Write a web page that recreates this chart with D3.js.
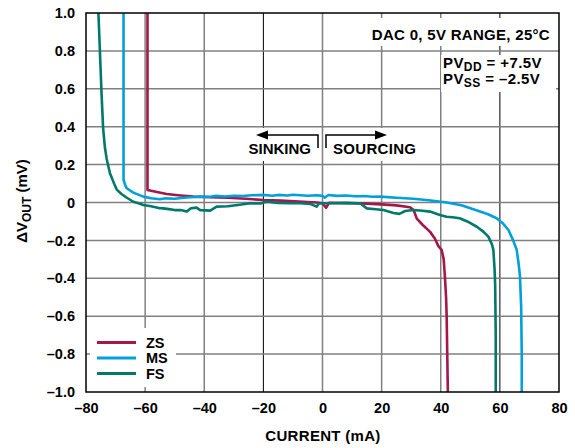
<!doctype html>
<html>
<head>
<meta charset="utf-8">
<style>
    body{
        margin: 0;
        background-color: white;
    }
    text{
        font-family: "Liberation Sans", Arial, sans-serif;
        font-weight: bold;
        fill: black;
    }
    .grid line{
        stroke: #808080;
        stroke-width: 1.5;
    }
    .grid line.dark{
        stroke: #000;
        stroke-width: 1;
    }
</style>
<script src="https://cdnjs.cloudflare.com/ajax/libs/d3/7.8.5/d3.min.js"></script>
</head>
<body>
<script>
    const width = 575;
    const height = 448;

    // axis ticks
    var xTicks = [-80, -60, -40, -20, 0, 20, 40, 60, 80];
    var yTicks = [-1.0, -0.8, -0.6, -0.4, -0.2, 0, 0.2, 0.4, 0.6, 0.8, 1.0];
    var darkGrid = [-20, 60];

    // series: current (mA) and delta Vout (mV)
    var zsCurrent = [-59.2, -59.2, -56, -52.7, -48, -43.7, -38, -32, -26, -20, -14, -8, -2, 0, 1.2, 2.2, 6, 10, 15, 20, 25, 29.6, 30.8, 31.9, 34, 36.4, 38, 39.2, 40.3, 41, 41.4, 41.8, 42.0, 42.2, 42.4];
    var zsDelta = [1.0, 0.066, 0.055, 0.045, 0.037, 0.031, 0.028, 0.025, 0.02, 0.013, 0.01, 0.005, 0.0, -0.004, -0.028, -0.002, -0.003, -0.004, -0.006, -0.01, -0.015, -0.025, -0.04, -0.085, -0.12, -0.155, -0.19, -0.23, -0.25, -0.3, -0.39, -0.5, -0.6, -0.8, -1.0];

    var msCurrent = [-67.3, -67.3, -66.7, -66.2, -64, -60.6, -58, -55, -53, -50, -46, -41.4, -38, -36, -33, -30, -27, -24, -20, -17, -15, -12, -10, -5, -2, 0, 0.8, 2, 5, 8, 11, 14, 17, 19.5, 25, 30.7, 36, 42, 47, 53.3, 56, 58.9, 61, 62.9, 64.5, 65.7, 66.4, 66.8, 67.2, 67.4, 67.4];
    var msDelta = [1.0, 0.12, 0.09, 0.075, 0.052, 0.031, 0.022, 0.017, 0.022, 0.02, 0.026, 0.031, 0.03, 0.035, 0.032, 0.036, 0.034, 0.038, 0.04, 0.036, 0.04, 0.037, 0.041, 0.036, 0.038, 0.035, 0.026, 0.04, 0.035, 0.037, 0.033, 0.034, 0.03, 0.031, 0.025, 0.02, 0.012, 0.0, -0.015, -0.048, -0.062, -0.083, -0.11, -0.145, -0.2, -0.25, -0.33, -0.39, -0.55, -0.8, -1.0];

    var fsCurrent = [-75.8, -75.5, -75.1, -74.7, -74.2, -73.6, -73.0, -71.9, -70.5, -69.6, -68, -66.2, -64, -62, -60.6, -58, -55, -53.9, -52, -50, -48, -45.9, -44.5, -42.6, -41.4, -38, -35.8, -32, -28, -24.5, -21, -18.9, -15, -11, -7.6, -4, -2, -1.2, 0, 3.7, 8, 12.7, 15, 18, 20.6, 24, 26, 28, 30.6, 33, 36.4, 39.7, 42, 44, 46.4, 49, 52.2, 54.5, 56.1, 57.3, 57.8, 58.2, 58.4, 58.6, 58.6];
    var fsDelta = [1.0, 0.88, 0.72, 0.56, 0.39, 0.29, 0.23, 0.154, 0.1, 0.068, 0.045, 0.025, 0.004, -0.005, -0.013, -0.02, -0.03, -0.031, -0.035, -0.04, -0.04, -0.048, -0.03, -0.027, -0.04, -0.043, -0.022, -0.02, -0.012, -0.004, -0.005, 0.004, -0.002, -0.004, -0.004, -0.008, -0.022, -0.005, -0.004, -0.004, -0.002, -0.004, -0.031, -0.036, -0.04, -0.055, -0.06, -0.045, -0.04, -0.042, -0.048, -0.066, -0.075, -0.078, -0.083, -0.1, -0.128, -0.155, -0.18, -0.22, -0.25, -0.35, -0.43, -0.7, -1.0];

    var seriesNames = ["ZS", "MS", "FS"];
    var seriesColors = ["#a3174b", "#00a0dc", "#00796c"];

    var series = [
        {name: seriesNames[0], color: seriesColors[0], x: zsCurrent, y: zsDelta},
        {name: seriesNames[1], color: seriesColors[1], x: msCurrent, y: msDelta},
        {name: seriesNames[2], color: seriesColors[2], x: fsCurrent, y: fsDelta}
    ];

    const plotLeft = 86, plotRight = 559, plotTop = 13, plotBottom = 392;

    var svg = d3.select('body')
        .append('svg')
        .attr('width', width)
        .attr('height', height);

    var xScale = d3.scaleLinear().domain([-80, 80]).range([plotLeft, plotRight]);
    var yScale = d3.scaleLinear().domain([-1, 1]).range([plotBottom, plotTop]);

    var fmtX = function(d){ return d < 0 ? '\u2013' + Math.abs(d) : '' + d; };
    var fmtY = function(d){
        if(Math.abs(d) < 1e-9) return '0';
        return d < 0 ? '\u2013' + Math.abs(d).toFixed(1) : d.toFixed(1);
    };

    //grid
    var grid = svg.append('g').attr('class', 'grid');
    grid.selectAll('line.v')
        .data(xTicks.slice(1, -1))
        .enter()
        .append('line')
        .attr('class', d => darkGrid.indexOf(d) >= 0 ? 'v dark' : 'v')
        .attr('x1', d => xScale(d)).attr('x2', d => xScale(d))
        .attr('y1', plotTop).attr('y2', plotBottom);
    grid.selectAll('line.h')
        .data(yTicks.slice(1, -1))
        .enter()
        .append('line')
        .attr('class', 'h')
        .attr('x1', plotLeft).attr('x2', plotRight)
        .attr('y1', d => yScale(d)).attr('y2', d => yScale(d));

    // white boxes behind the text blocks
    var boxes = [[90, 328, 86, 59], [244, 128, 75, 33], [327, 128, 94, 33], [363, 18, 194, 28], [441, 55, 115, 37]];
    svg.append('g').selectAll('rect')
        .data(boxes)
        .enter()
        .append('rect')
        .attr('x', d => d[0]).attr('y', d => d[1])
        .attr('width', d => d[2]).attr('height', d => d[3])
        .attr('fill', 'white');

    //curves
    var line = d3.line()
        .x(d => xScale(d[0]))
        .y(d => yScale(d[1]));

    svg.append('g')
        .selectAll('path')
        .data(series)
        .enter()
        .append('path')
        .attr('d', s => line(s.x.map((v, i) => [v, s.y[i]])))
        .attr('fill', 'none')
        .attr('stroke', s => s.color)
        .attr('stroke-width', 2.6)
        .attr('stroke-linejoin', 'round');

    //frame
    svg.append('rect')
        .attr('x', plotLeft).attr('y', plotTop)
        .attr('width', plotRight - plotLeft).attr('height', plotBottom - plotTop)
        .attr('fill', 'none')
        .attr('stroke', 'black')
        .attr('stroke-width', 1.5);

    //axes
    var xAxis = d3.axisBottom(xScale).tickValues(xTicks).tickFormat(fmtX).tickSize(0).tickPadding(11);
    var yAxis = d3.axisLeft(yScale).tickValues(yTicks).tickFormat(fmtY).tickSize(0).tickPadding(11);

    var gx = svg.append('g').attr('transform', 'translate(0,' + plotBottom + ')').call(xAxis);
    var gy = svg.append('g').attr('transform', 'translate(' + plotLeft + ',0)').call(yAxis);
    [gx, gy].forEach(function(g){
        g.select('.domain').remove();
        g.selectAll('text')
            .style('font-size', '14.5px')
            .style('font-family', '"Liberation Sans", Arial, sans-serif')
            .style('font-weight', 'bold')
            .attr('fill', 'black');
    });

    svg.append('text')
        .attr('x', 323).attr('y', 441)
        .attr('text-anchor', 'middle')
        .style('font-size', '15px')
        .style('letter-spacing', '0.3px')
        .text('CURRENT (mA)');

    var yt = svg.append('text')
        .attr('transform', 'translate(27,201) rotate(-90)')
        .attr('text-anchor', 'middle')
        .style('font-size', '15px');
    yt.append('tspan').text('\u0394V');
    yt.append('tspan').attr('baseline-shift', '-4').style('font-size', '12px').text('OUT');
    yt.append('tspan').text(' (mV)');

    //legend
    var legend = svg.append('g');
    legend.selectAll('line')
        .data(series)
        .enter()
        .append('line')
        .attr('x1', 97).attr('x2', 136)
        .attr('y1', (d, i) => 342.5 + i * 15.5)
        .attr('y2', (d, i) => 342.5 + i * 15.5)
        .attr('stroke', d => d.color)
        .attr('stroke-width', 3);
    legend.selectAll('text')
        .data(series)
        .enter()
        .append('text')
        .attr('x', 146)
        .attr('y', (d, i) => 342.5 + i * 15.5)
        .attr('dy', '0.36em')
        .style('font-size', '14.5px')
        .text(d => d.name);

    //annotations
    svg.append('text')
        .attr('x', 550).attr('y', 40)
        .attr('text-anchor', 'end')
        .style('font-size', '15px')
        .style('letter-spacing', '0.3px')
        .text('DAC 0, 5V RANGE, 25\u00B0C');

    var pv = [['DD', ' = +7.5V'], ['SS', ' = \u20132.5V']];
    pv.forEach(function(p, i){
        var t = svg.append('text')
            .attr('x', 443).attr('y', 68 + i * 16)
            .style('font-size', '15px')
            .style('letter-spacing', '0.4px');
        t.append('tspan').text('PV');
        t.append('tspan').attr('baseline-shift', '-3').style('font-size', '12px').text(p[0]);
        t.append('tspan').text(p[1]);
    });

    var arrows = svg.append('g');
    arrows.append('path')
        .attr('d', 'M318,148V135H266')
        .attr('fill', 'none').attr('stroke', 'black').attr('stroke-width', 1.5);
    arrows.append('path')
        .attr('d', 'M256,135L268,130.5L268,139.5Z')
        .attr('fill', 'black');
    arrows.append('path')
        .attr('d', 'M326,148V135H377')
        .attr('fill', 'none').attr('stroke', 'black').attr('stroke-width', 1.5);
    arrows.append('path')
        .attr('d', 'M387,135L375,130.5L375,139.5Z')
        .attr('fill', 'black');

    svg.append('text')
        .attr('x', 311).attr('y', 154)
        .attr('text-anchor', 'end')
        .style('font-size', '15px')
        .text('SINKING');
    svg.append('text')
        .attr('x', 333).attr('y', 154)
        .style('font-size', '15px')
        .style('letter-spacing', '0.3px')
        .text('SOURCING');
</script>
</body>
</html>
